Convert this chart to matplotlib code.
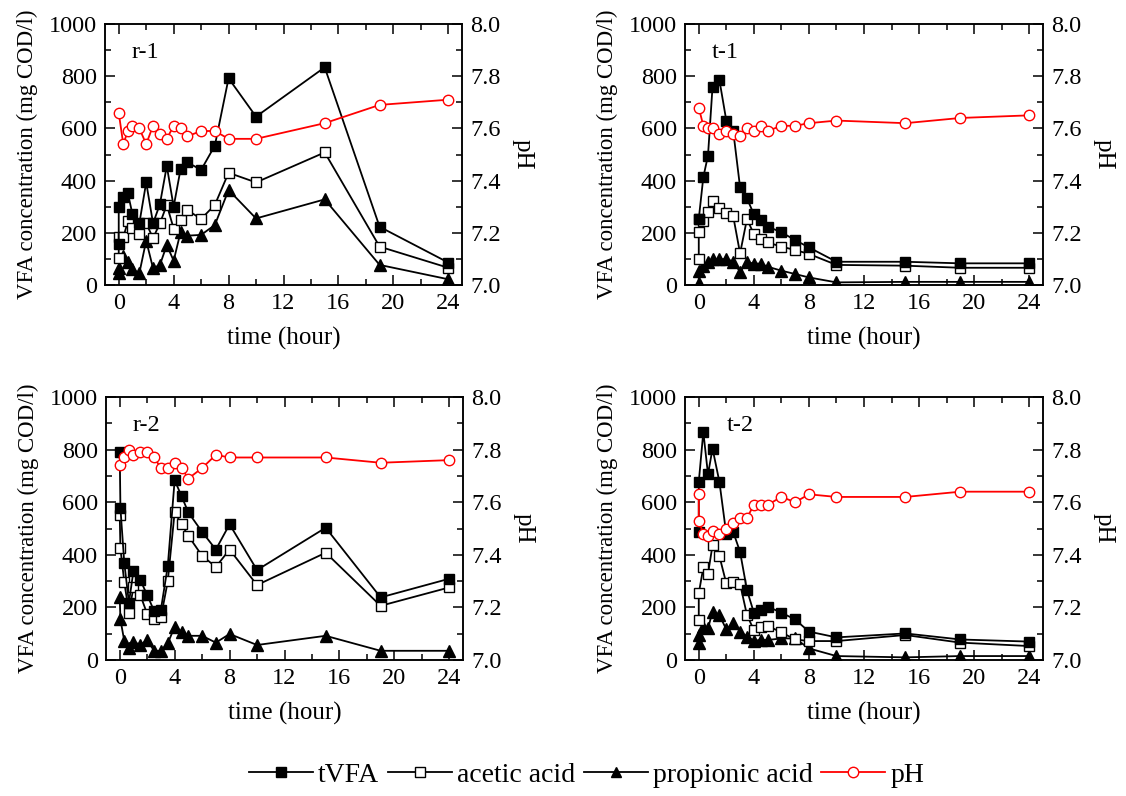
import numpy as np
import matplotlib
matplotlib.use("Agg")
import matplotlib.pyplot as plt
from matplotlib.ticker import MultipleLocator, FormatStrFormatter
from matplotlib.lines import Line2D

plt.rcParams['font.family'] = ['Liberation Serif', 'DejaVu Serif']

# sampling times (hour)
t_vfa_a = [0, 0, 0.33, 0.67, 1, 1.5, 2, 2.5, 3, 3.5, 4, 4.5, 5, 6, 7, 8, 10, 15, 19, 24]
t_vfa_b = [0, 0.05, 0.33, 0.67, 1, 1.5, 2, 2.5, 3, 3.5, 4, 4.5, 5, 6, 7, 8, 10, 15, 19, 24]
t_ph_a = [0, 0.33, 0.67, 1, 1.5, 2, 2.5, 3, 3.5, 4, 4.5, 5, 6, 7, 8, 10, 15, 19, 24]
t_ph_b = [0, 0, 0.33, 0.67, 1, 1.5, 2, 2.5, 3, 3.5, 4, 4.5, 5, 6, 7, 8, 10, 15, 19, 24]

# r-1
r1_tvfa = [157, 300, 338, 351, 271, 236, 393, 236, 310, 456, 300, 443, 470, 441, 534, 792, 645, 834, 223, 86]
r1_acetic = [102, 183, 183, 244, 220, 195, 236, 180, 236, 307, 216, 249, 287, 253, 307, 430, 393, 508, 147, 66]
r1_prop = [45, 64, 111, 89, 60, 45, 170, 64, 77, 153, 93, 202, 189, 192, 230, 364, 255, 328, 77, 22]
r1_ph = [7.66, 7.54, 7.59, 7.61, 7.60, 7.54, 7.61, 7.58, 7.56, 7.61, 7.60, 7.57, 7.59, 7.59, 7.56, 7.56, 7.62, 7.69, 7.71]

# t-1
t1_tvfa = [253, 253, 413, 496, 760, 785, 630, 591, 374, 332, 271, 249, 224, 202, 172, 144, 89, 89, 83, 83]
t1_acetic = [100, 204, 245, 278, 322, 294, 275, 264, 121, 253, 195, 176, 163, 147, 134, 119, 77, 74, 66, 66]
t1_prop = [9, 55, 72, 90, 100, 98, 100, 90, 50, 88, 82, 82, 70, 55, 42, 29, 10, 12, 12, 12]
t1_ph = [7.68, 7.61, 7.60, 7.60, 7.58, 7.59, 7.58, 7.57, 7.60, 7.59, 7.61, 7.59, 7.61, 7.61, 7.62, 7.63, 7.62, 7.64, 7.65]

# r-2
r2_tvfa = [791, 578, 370, 218, 339, 304, 247, 187, 192, 358, 684, 623, 561, 487, 420, 516, 342, 503, 238, 309]
r2_acetic = [553, 424, 297, 180, 276, 247, 175, 154, 162, 300, 563, 516, 472, 396, 354, 420, 285, 408, 206, 276]
r2_prop = [238, 154, 73, 44, 70, 57, 76, 35, 35, 63, 127, 108, 92, 92, 66, 99, 57, 92, 35, 35]
r2_ph = [7.74, 7.77, 7.80, 7.78, 7.79, 7.79, 7.77, 7.73, 7.73, 7.75, 7.73, 7.69, 7.73, 7.78, 7.77, 7.77, 7.77, 7.75, 7.76]

# t-2
t2_tvfa = [485, 677, 867, 706, 804, 677, 478, 487, 411, 266, 180, 192, 203, 180, 154, 108, 86, 101, 78, 70]
t2_acetic = [152, 253, 352, 327, 437, 395, 291, 297, 289, 171, 114, 124, 130, 105, 78, 72, 72, 95, 66, 53]
t2_prop = [63, 95, 127, 120, 184, 171, 116, 139, 108, 89, 73, 76, 76, 82, 82, 44, 15, 10, 15, 15]
t2_ph = [7.63, 7.53, 7.48, 7.47, 7.49, 7.48, 7.50, 7.52, 7.54, 7.54, 7.59, 7.59, 7.59, 7.62, 7.60, 7.63, 7.62, 7.62, 7.64, 7.64]

panels = [
    ("r-1", t_vfa_a, r1_tvfa, r1_acetic, r1_prop, t_ph_a, r1_ph, [105, 24, 462, 285], 0.075),
    ("t-1", t_vfa_a, t1_tvfa, t1_acetic, t1_prop, t_ph_a, t1_ph, [685, 24, 1043, 285], 0.075),
    ("r-2", t_vfa_b, r2_tvfa, r2_acetic, r2_prop, t_ph_a, r2_ph, [106, 397, 463, 660], 0.073),
    ("t-2", t_vfa_a, t2_tvfa, t2_acetic, t2_prop, t_ph_b, t2_ph, [685, 397, 1043, 660], 0.117),
]

W, H = 1126, 796
fig = plt.figure(figsize=(W / 100, H / 100), dpi=100)

FS = 17.5
lw = 1.3
ms = 6.5

for name, tv, tvfa, ace, pro, tp, ph, box, lx in panels:
    x0, y0, x1, y1 = box
    ax = fig.add_axes([x0 / W, 1 - y1 / H, (x1 - x0) / W, (y1 - y0) / H])
    ax.plot(tv, tvfa, '-', color='black', lw=lw, marker='s', ms=ms, mfc='black', mec='black', zorder=4)
    ax.plot(tv, ace, '-', color='black', lw=lw, marker='s', ms=ms, mfc='white', mec='black', mew=1.0, zorder=3)
    ax.plot(tv, pro, '-', color='black', lw=lw, marker='^', ms=8, mfc='black', mec='black', zorder=2)
    ax.set_xlim(-1, 25)
    ax.set_ylim(0, 1000)
    ax.xaxis.set_major_locator(MultipleLocator(4))
    ax.xaxis.set_minor_locator(MultipleLocator(2))
    ax.yaxis.set_major_locator(MultipleLocator(200))
    ax.yaxis.set_minor_locator(MultipleLocator(100))
    ax.tick_params(which='both', direction='in', top=True, right=False, labelsize=FS, width=1.1)
    ax.tick_params(which='major', length=7, pad=6)
    ax.tick_params(which='minor', length=4)
    ax.set_xlabel('time (hour)', fontsize=18, va='center')
    ax.xaxis.set_label_coords(0.5, -0.205)
    ax.set_ylabel('VFA concentration (mg COD/l)', fontsize=16.5, va='center')
    ax.yaxis.set_label_coords(-0.218, 0.5)
    for s in ax.spines.values():
        s.set_linewidth(1.1)
    ax.text(lx, 0.93, name, transform=ax.transAxes, fontsize=FS, va='top', ha='left')

    ax2 = ax.twinx()
    ax2.plot(tp, ph, '-', color='red', lw=lw, marker='o', ms=7.5, mfc='white', mec='red', mew=1.0)
    ax2.set_ylim(7.0, 8.0)
    ax2.yaxis.set_major_locator(MultipleLocator(0.2))
    ax2.yaxis.set_minor_locator(MultipleLocator(0.1))
    ax2.yaxis.set_major_formatter(FormatStrFormatter('%.1f'))
    ax2.tick_params(which='both', direction='in', labelsize=FS, width=1.1)
    ax2.tick_params(which='major', length=7, pad=6)
    ax2.tick_params(which='minor', length=4)
    ax2.set_ylabel('pH', fontsize=18, rotation=270, va='center', ha='center')
    ax2.yaxis.set_label_coords(1.17, 0.5)
    for s in ax2.spines.values():
        s.set_linewidth(1.1)

handles = [
    Line2D([], [], color='black', lw=lw, marker='s', ms=6.5, mfc='black', mec='black'),
    Line2D([], [], color='black', lw=lw, marker='s', ms=6.5, mfc='white', mec='black'),
    Line2D([], [], color='black', lw=lw, marker='^', ms=7.5, mfc='black', mec='black'),
    Line2D([], [], color='red', lw=lw, marker='o', ms=7.5, mfc='white', mec='red'),
]
labels = ['tVFA', 'acetic acid', 'propionic acid', 'pH']
fig.legend(handles, labels, loc='center', bbox_to_anchor=(0.521, 1 - 775 / H), ncol=4,
           frameon=False, fontsize=20, handlelength=2.3, handletextpad=0.2,
           columnspacing=0.3, borderpad=0.1)

fig.savefig('out.png', dpi=100)
